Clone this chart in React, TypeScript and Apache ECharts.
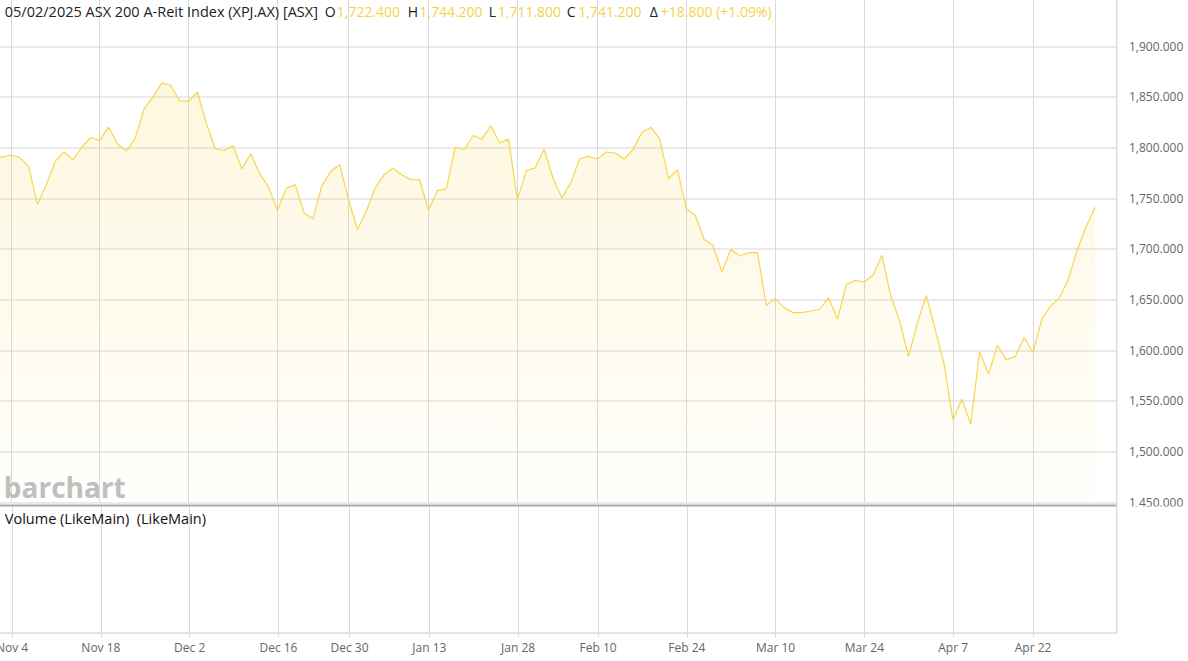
import React, { useEffect, useRef } from "react";
import * as echarts from "echarts";

const dates = [
  "Oct 31", "Nov 1", "Nov 4", "Nov 5", "Nov 6", "Nov 7", "Nov 8", "Nov 11", "Nov 12", "Nov 13", "Nov 14", "Nov 15",
  "Nov 18", "Nov 19", "Nov 20", "Nov 21", "Nov 22", "Nov 25", "Nov 26", "Nov 27", "Nov 28", "Nov 29",
  "Dec 2", "Dec 3", "Dec 4", "Dec 5", "Dec 6", "Dec 9", "Dec 10", "Dec 11", "Dec 12", "Dec 13",
  "Dec 16", "Dec 17", "Dec 18", "Dec 19", "Dec 20", "Dec 23", "Dec 24", "Dec 27", "Dec 30", "Dec 31",
  "Jan 2", "Jan 3", "Jan 6", "Jan 7", "Jan 8", "Jan 9", "Jan 10", "Jan 13", "Jan 14", "Jan 15", "Jan 16", "Jan 17",
  "Jan 20", "Jan 21", "Jan 22", "Jan 23", "Jan 24", "Jan 28", "Jan 29", "Jan 30", "Jan 31",
  "Feb 3", "Feb 4", "Feb 5", "Feb 6", "Feb 7", "Feb 10", "Feb 11", "Feb 12", "Feb 13", "Feb 14",
  "Feb 17", "Feb 18", "Feb 19", "Feb 20", "Feb 21", "Feb 24", "Feb 25", "Feb 26", "Feb 27", "Feb 28",
  "Mar 3", "Mar 4", "Mar 5", "Mar 6", "Mar 7", "Mar 10", "Mar 11", "Mar 12", "Mar 13", "Mar 14",
  "Mar 17", "Mar 18", "Mar 19", "Mar 20", "Mar 21", "Mar 24", "Mar 25", "Mar 26", "Mar 27", "Mar 28", "Mar 31",
  "Apr 1", "Apr 2", "Apr 3", "Apr 4", "Apr 7", "Apr 8", "Apr 9", "Apr 10", "Apr 11", "Apr 14", "Apr 15", "Apr 16", "Apr 17",
  "Apr 22", "Apr 23", "Apr 24", "Apr 28", "Apr 29", "Apr 30", "May 1", "May 2",
];
const padDates = ["May 5", "May 6"];

const closes = [
  1796, 1790.4, 1792.7, 1790.4, 1781.5, 1743.8, 1763.5, 1786.4, 1796, 1787.8, 1800.6, 1810,
  1807.1, 1820.3, 1803.8, 1796.7, 1809.4, 1838.3, 1850.4, 1863.6, 1861.6, 1846.2,
  1845.9, 1854.7, 1824.2, 1798.9, 1797.2, 1801.9, 1778.9, 1794, 1774.3, 1761,
  1738.2, 1759.8, 1763.5, 1735.6, 1729.7, 1762.5, 1776.6, 1783.2, 1748.6, 1719.2,
  1737.2, 1760.2, 1773.3, 1779.9, 1773, 1768.4, 1768.1, 1738.2, 1757.6, 1759.5, 1800.6, 1797.9,
  1812, 1808.4, 1821.6, 1804.5, 1808.4, 1748.7, 1777.3, 1779.9, 1798.6,
  1770, 1750.3, 1765.2, 1789, 1791.3, 1788.8, 1795.7, 1794.7, 1788.8, 1797.9,
  1815, 1819.9, 1808.8, 1769.4, 1778.2, 1739.8, 1733.2, 1709.4, 1703.4, 1677.6,
  1699.5, 1693.3, 1696.3, 1696.3, 1644.4, 1651, 1642.1, 1637.2, 1637.2, 1638.8,
  1640.5, 1652, 1630.6, 1665, 1669, 1667.4, 1674, 1693.6, 1654, 1628.9, 1593.8,
  1627.3, 1654.2, 1620.7, 1586.3, 1531.2, 1551.9, 1527.3, 1598.8, 1576.5, 1605, 1590.6, 1593.8, 1612.6,
  1597.8, 1631.2, 1643.7, 1652, 1670.7, 1699.5, 1722.4, 1741.2,
];

const tickLabels = [
  "Nov 4", "Nov 18", "Dec 2", "Dec 16", "Dec 30", "Jan 13", "Jan 28",
  "Feb 10", "Feb 24", "Mar 10", "Mar 24", "Apr 7", "Apr 22",
];

const yTicks = [1450, 1500, 1550, 1600, 1650, 1700, 1750, 1800, 1850, 1900];

const headerTitle = "05/02/2025 ASX 200 A-Reit Index (XPJ.AX) [ASX]";
const ohlc = { O: "1,722.400", H: "1,744.200", L: "1,711.800", C: "1,741.200" };
const change = "+18.800 (+1.09%)";
const lastClose = closes[closes.length - 1];

const FONT = "Open Sans";
const YELLOW_TXT = "#f6d14a";
const LINE = "#f7d54d";

// The canvas is shifted left so that the first (Oct 31) point sits just off-screen.
const STEP = 8.887;
const OFF = STEP - 2.1;
const W = 1188 + OFF;

export default function App() {
  const ref = useRef<HTMLDivElement>(null);

  useEffect(() => {
    if (!ref.current) return;
    const chart = echarts.init(ref.current, undefined, { renderer: "svg" });
    const categories = [...dates, ...padDates];
    const tickSet = new Set(tickLabels);
    const isTick = (_i: number, v: string) => tickSet.has(v);

    const fmt = (v: number) =>
      v.toLocaleString("en-US", { minimumFractionDigits: 3, maximumFractionDigits: 3 });

    const gridRightEdge = (categories.length - 1) * STEP;
    const gridRight = W - gridRightEdge;
    const axisX = OFF + 1117;

    const pxPerUnit = 456 / 450;
    const mainBottom = 502.3;
    const mainMax = 1450 + mainBottom / pxPerUnit;

    const headerText = (x: number, text: string, color: string, size = 14) => ({
      type: "text",
      x: OFF + x,
      y: 11,
      style: { text, fill: color, font: `${size}px "${FONT}"`, textVerticalAlign: "middle" },
      z: 50,
    });

    chart.setOption({
      animation: false,
      textStyle: { fontFamily: FONT },
      grid: [
        { left: 0, right: gridRight, top: 0, height: mainBottom },
        { left: 0, right: gridRight, top: 506.5, height: 126.5 },
        { left: OFF, right: W - axisX, top: 46.3, height: 456 },
      ],
      xAxis: [
        {
          type: "category",
          gridIndex: 0,
          data: categories,
          boundaryGap: false,
          axisLine: { show: false },
          axisTick: { show: false },
          axisLabel: { show: false },
          splitLine: { show: true, interval: isTick, lineStyle: { color: "#d9d9d9", width: 1 } },
        },
        {
          type: "category",
          gridIndex: 1,
          data: categories,
          boundaryGap: false,
          axisLine: { show: false },
          axisTick: { show: true, interval: isTick, length: 4, lineStyle: { color: "#d9d9d9" } },
          axisLabel: {
            show: true,
            interval: isTick,
            color: "#666",
            fontSize: 12,
            fontFamily: FONT,
            margin: 8,
          },
          splitLine: { show: true, interval: isTick, lineStyle: { color: "#d9d9d9", width: 1 } },
        },
        { type: "value", gridIndex: 2, min: 0, max: 1, show: false },
      ],
      yAxis: [
        { type: "value", gridIndex: 0, min: 1450, max: mainMax, show: false },
        { type: "value", gridIndex: 1, min: 0, max: 1, show: false },
        {
          type: "value",
          gridIndex: 2,
          position: "right",
          min: 1450,
          max: 1900,
          interval: 50,
          axisLine: { show: false },
          axisTick: { show: false },
          axisLabel: {
            show: true,
            margin: 12,
            color: "#666",
            fontSize: 12,
            fontFamily: FONT,
            formatter: (v: number) => (yTicks.includes(v) ? fmt(v) : ""),
          },
          splitLine: { show: true, lineStyle: { color: "#e3e3e3", width: 1.5 } },
        },
      ],
      series: [
        {
          type: "line",
          xAxisIndex: 0,
          yAxisIndex: 0,
          data: closes,
          symbol: "none",
          lineStyle: { color: LINE, width: 1.2 },
          areaStyle: {
            origin: "start",
            color: new echarts.graphic.LinearGradient(0, 0, 0, 1, [
              { offset: 0, color: "rgba(247,213,77,0.26)" },
              { offset: 1, color: "rgba(247,213,77,0.03)" },
            ]),
          },
          markLine: {
            silent: true,
            symbol: "none",
            lineStyle: { opacity: 0 },
            data: [{ yAxis: lastClose }],
            label: {
              show: true,
              position: "end",
              distance: 5,
              formatter: () => fmt(lastClose),
              backgroundColor: "#f7d548",
              color: "#111",
              fontWeight: "bold",
              fontSize: 12,
              fontFamily: FONT,
              padding: [3, 5, 3, 6],
            },
          },
        },
      ],
      graphic: [
        headerText(5, headerTitle, "#222", 14.5),
        headerText(325, "O", "#222"),
        headerText(337, ohlc.O, YELLOW_TXT),
        headerText(408, "H", "#222"),
        headerText(419.5, ohlc.H, YELLOW_TXT),
        headerText(489, "L", "#222"),
        headerText(498, ohlc.L, YELLOW_TXT),
        headerText(567, "C", "#222"),
        headerText(578.5, ohlc.C, YELLOW_TXT),
        headerText(650, "Δ", "#222"),
        headerText(661, change, YELLOW_TXT),
        {
          type: "text",
          x: OFF + 4,
          y: 487,
          style: {
            text: "barchart",
            fill: "#bfbfbf",
            font: `bold 28px "${FONT}"`,
            textVerticalAlign: "middle",
          },
          z: 50,
        },
        {
          type: "rect",
          shape: { x: axisX + 1, y: 506.5, width: 72, height: 14 },
          style: { fill: "#fff" },
          z: 60,
        },
        {
          type: "line",
          shape: { x1: OFF, y1: 505.5, x2: axisX, y2: 505.5 },
          style: { stroke: "#a8a8a8", lineWidth: 2 },
          z: 60,
        },
        {
          type: "line",
          shape: { x1: OFF, y1: 633, x2: axisX, y2: 633 },
          style: { stroke: "#dcdcdc", lineWidth: 1.5 },
          z: 60,
        },
        {
          type: "line",
          shape: { x1: axisX, y1: 0, x2: axisX, y2: 633 },
          style: { stroke: "#dcdcdc", lineWidth: 1.5 },
          z: 60,
        },
        {
          type: "text",
          x: OFF + 5,
          y: 518,
          style: {
            text: "Volume (LikeMain)  (LikeMain)",
            fill: "#111",
            font: `14.5px "${FONT}"`,
            textVerticalAlign: "middle",
          },
          z: 60,
        },
      ],
    });

    return () => chart.dispose();
  }, []);

  return (
    <div
      ref={ref}
      style={{ position: "fixed", left: -OFF, top: 0, width: W, height: 661, background: "#fff" }}
    />
  );
}
